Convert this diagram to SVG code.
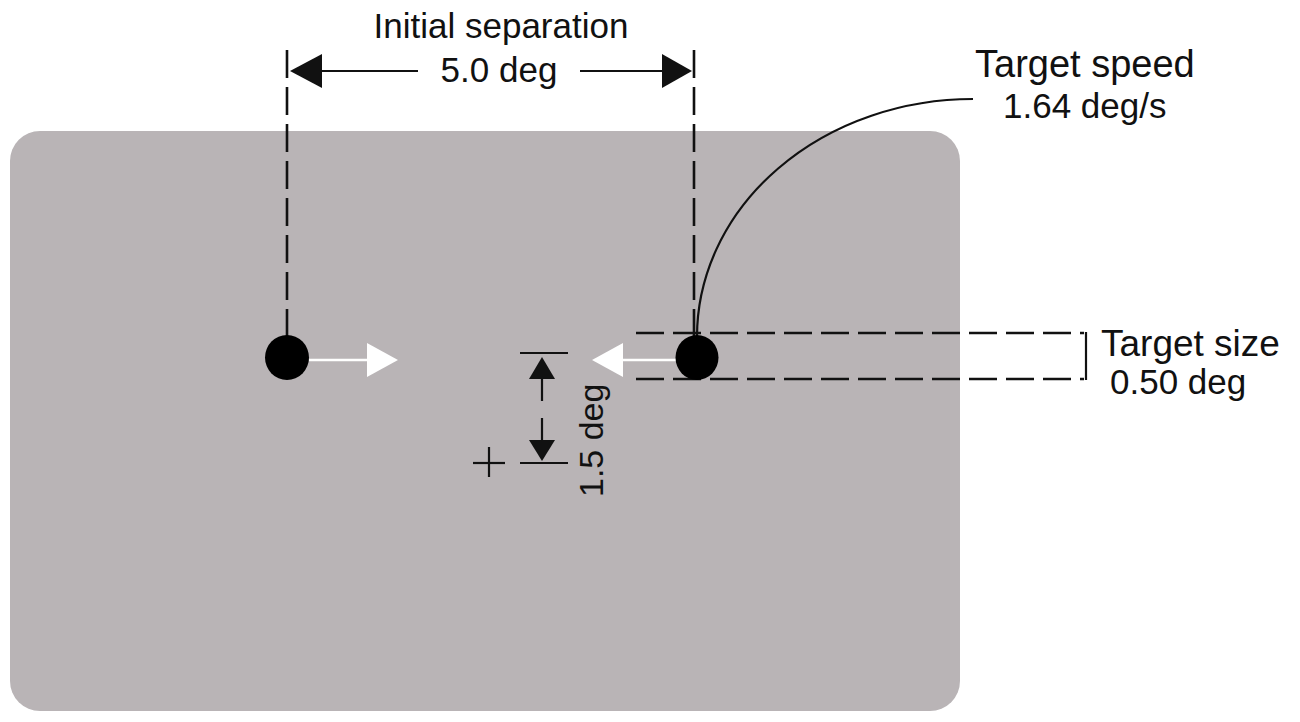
<svg xmlns="http://www.w3.org/2000/svg" width="1300" height="722" viewBox="0 0 1300 722">
<style>
.lbl{font-family:"Liberation Sans",Arial,sans-serif;fill:#111;}
.dash{stroke:#111;stroke-width:2.6;fill:none;stroke-dasharray:28 9;}
.ln{stroke:#111;stroke-width:2.2;fill:none;}
.wl{stroke:#fff;stroke-width:2.6;fill:none;}
</style>
<rect width="1300" height="722" fill="#fff"/>
<g id="screen">
<rect x="10" y="131" width="950" height="580" rx="30" ry="30" fill="#b9b4b6"/>
</g>
<g id="connectors">
<line class="dash" x1="287" y1="50" x2="287" y2="336"/>
<line class="dash" x1="694" y1="50" x2="694" y2="336"/>
<line class="ln" x1="320" y1="71" x2="418" y2="71"/>
<polygon points="290,71 322,54 322,88" fill="#111"/>
<line class="ln" x1="580" y1="71" x2="664" y2="71"/>
<polygon points="692,71 662,54 662,88" fill="#111"/>
<path class="ln" d="M697,337 A276,238 0 0 1 973,99"/>
<line class="dash" x1="636" y1="333" x2="1084" y2="333"/>
<line class="dash" x1="636" y1="379" x2="1084" y2="379"/>
<line class="ln" x1="1086" y1="332" x2="1086" y2="380"/>
<line class="ln" x1="520" y1="353" x2="568" y2="353"/>
<line class="ln" x1="520" y1="463" x2="568" y2="463"/>
<polygon points="542,357 529,379 555,379" fill="#111"/>
<line class="ln" x1="542" y1="378" x2="542" y2="401"/>
<line class="ln" x1="542" y1="418" x2="542" y2="441"/>
<polygon points="542,461 529,440 555,440" fill="#111"/>
<line class="wl" x1="309" y1="360" x2="368" y2="360"/>
<polygon points="367,343 398,360 367,377" fill="#fff"/>
<line class="wl" x1="622" y1="360" x2="680" y2="360"/>
<polygon points="623,343 592,360 623,377" fill="#fff"/>
</g>
<g id="target-left">
<ellipse cx="287" cy="357.5" rx="22" ry="22.5" fill="#000"/>
</g>
<g id="target-right">
<ellipse cx="697" cy="357.5" rx="21.5" ry="22.5" fill="#000"/>
</g>
<g id="fixation">
<line class="ln" x1="473" y1="463" x2="505" y2="463"/>
<line class="ln" x1="489" y1="447" x2="489" y2="477"/>
</g>
<g id="labels">
<text class="lbl" x="501" y="38" font-size="35" text-anchor="middle">Initial separation</text>
<text class="lbl" x="499" y="82" font-size="35" text-anchor="middle">5.0 deg</text>
<text class="lbl" x="975" y="77" font-size="38">Target speed</text>
<text class="lbl" x="1003" y="118" font-size="35">1.64 deg/s</text>
<text class="lbl" x="1101" y="356" font-size="37">Target size</text>
<text class="lbl" x="1110" y="394" font-size="35">0.50 deg</text>
<text class="lbl" transform="translate(603,497) rotate(-90)" font-size="34">1.5 deg</text>
</g>
</svg>
